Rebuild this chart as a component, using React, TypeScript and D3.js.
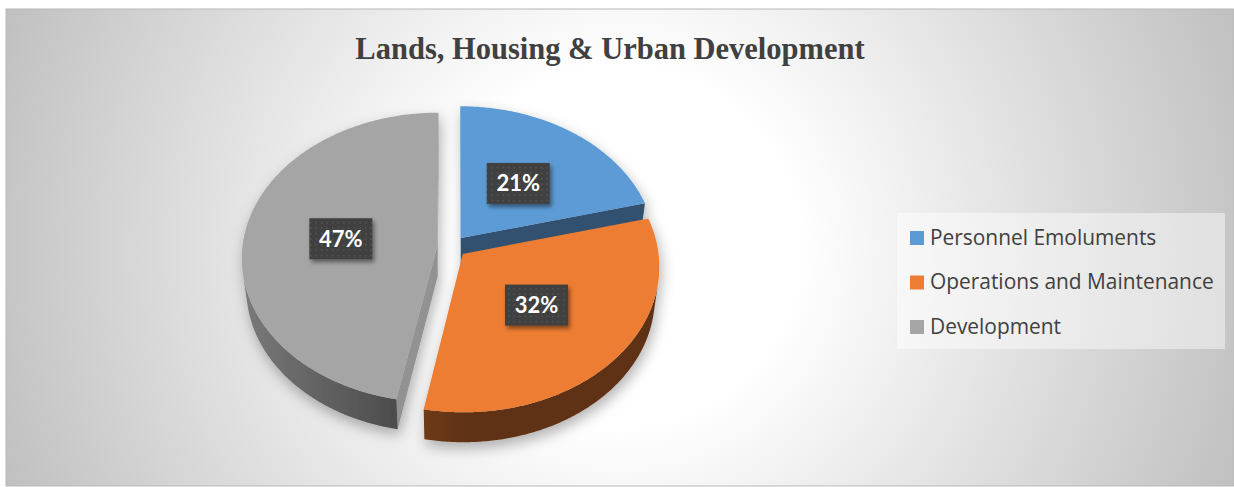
import React from 'react';
import * as d3 from 'd3';

const title = 'Lands, Housing & Urban Development';
const categories = ['Personnel Emoluments', 'Operations and Maintenance', 'Development'];
const values = [21, 32, 47];
const pctLabels = ['21%', '32%', '47%'];
const colors = ['#5B9BD5', '#ED7D31', '#A5A5A5'];

const W = 1234;
const H = 487;

// 3D projection parameters
const CX = 452;
const CY = 246.5;
const S = 195;
const D = 8.15;
const PHI = (47.6 * Math.PI) / 180;
const T = 0.24; // thickness (radius units)
const E = 0.075; // explosion
const LABEL_R = 0.5;
const cosP = Math.cos(PHI);
const sinP = Math.sin(PHI);

function project(X: number, h: number, Z: number): [number, number, number] {
  const d = D - (Z * cosP + h * sinP);
  const u = h * cosP - Z * sinP;
  return [CX + (S * D * X) / d, CY - (S * D * u) / d, d];
}

type Stop = { offset: number; color: string };
type Face = { d: string; fill: string; depth: number; grad?: { id: string; x1: number; x2: number; stops: Stop[] } };

export default function App() {
  const arcs = d3
    .pie<number>()
    .sort(null)
    .startAngle(0)
    .endAngle(2 * Math.PI)(values);
  const line = d3.line();
  const camZ = D * cosP;

  const sides: Face[] = [];
  const tops: Face[] = [];
  const labelPos: [number, number][] = [];

  arcs.forEach((a, i) => {
    const mid = (a.startAngle + a.endAngle) / 2;
    const ox = E * Math.sin(mid);
    const oz = -E * Math.cos(mid);
    const base = d3.rgb(colors[i]);
    const shade = (k: number) => d3.rgb(base.r * k, base.g * k, base.b * k).formatHex();
    const n = Math.max(8, Math.ceil((a.endAngle - a.startAngle) / 0.01));
    const thetas = d3.range(n + 1).map((j) => a.startAngle + ((a.endAngle - a.startAngle) * j) / n);
    const rim = (t: number, h: number) => project(ox + Math.sin(t), h, oz - Math.cos(t));
    const xy = (p: [number, number, number]): [number, number] => [p[0], p[1]];
    const visibleAt = (t: number) => {
      const px = ox + Math.sin(t);
      const pz = oz - Math.cos(t);
      return -px * Math.sin(t) + (camZ - pz) * -Math.cos(t) > 0;
    };

    const apex = project(ox, 0, oz);
    const topPts = [xy(apex), ...thetas.map((t) => xy(rim(t, 0)))];
    tops.push({ d: (line(topPts) || '') + 'Z', fill: colors[i], depth: apex[2] });

    // outer wall: contiguous visible runs as single polygons with gradient
    const runs: number[][] = [];
    let cur: number[] = [];
    thetas.forEach((t) => {
      if (visibleAt(t)) cur.push(t);
      else if (cur.length) {
        runs.push(cur);
        cur = [];
      }
    });
    if (cur.length) runs.push(cur);
    runs.forEach((run, r) => {
      if (run.length < 2) return;
      const topR = run.map((t) => xy(rim(t, 0)));
      const botR = run.map((t) => xy(rim(t, -T))).reverse();
      const xs = topR.map((p) => p[0]);
      const x1 = d3.min(xs) as number;
      const x2 = d3.max(xs) as number;
      const stops: Stop[] = run
        .map((t, j) => ({
          offset: (xs[j] - x1) / Math.max(1e-6, x2 - x1),
          color: shade(0.4 + 0.35 * Math.max(0, -Math.sin(t))),
        }))
        .sort((p, q) => p.offset - q.offset)
        .filter((_, j, arr) => j % 6 === 0 || j === arr.length - 1);
      const tm = run[Math.floor(run.length / 2)];
      sides.push({
        d: (line([...topR, ...botR]) || '') + 'Z',
        fill: `url(#wall${i}_${r})`,
        depth: project(ox + Math.sin(tm), -T / 2, oz - Math.cos(tm))[2],
        grad: { id: `wall${i}_${r}`, x1, x2, stops },
      });
    });

    const cuts: [number, number][] = [
      [a.startAngle, a.startAngle - Math.PI / 2],
      [a.endAngle, a.endAngle + Math.PI / 2],
    ];
    cuts.forEach(([t, nDir]) => {
      const nx = Math.sin(nDir);
      const nz = -Math.cos(nDir);
      const dot = -ox * nx + (camZ - oz) * nz;
      if (dot > 0) {
        const pts = [apex, rim(t, 0), rim(t, -T), project(ox, -T, oz)];
        const k = 0.5 + 0.4 * Math.sin(nDir) ** 2;
        const depth = d3.mean(pts, (p) => p[2]) as number;
        sides.push({ d: (line(pts.map(xy)) || '') + 'Z', fill: shade(k), depth });
      }
    });

    const lp = project(ox + LABEL_R * Math.sin(mid), 0, oz - LABEL_R * Math.cos(mid));
    labelPos.push([lp[0], lp[1]]);
  });

  sides.sort((p, q) => q.depth - p.depth);

  const legendX = 897;
  const legendY = 213;
  const rowStep = 44.5;

  return (
    <div style={{ position: 'absolute', left: 0, top: 0 }}>
      <svg width={W} height={H} style={{ display: 'block' }}>
        <defs>
          <radialGradient id="bg" gradientUnits="userSpaceOnUse" cx={620} cy={247} r={660}>
            <stop offset="0" stopColor="#ffffff" />
            <stop offset="0.27" stopColor="#ffffff" />
            <stop offset="1" stopColor="#c0c0c0" />
          </radialGradient>
          <filter id="pieShadow" x="-20%" y="-20%" width="140%" height="150%">
            <feDropShadow dx="2" dy="6" stdDeviation="7" floodColor="#000" floodOpacity="0.3" />
          </filter>
          <filter id="lblShadow" x="-20%" y="-20%" width="150%" height="160%">
            <feDropShadow dx="2" dy="3" stdDeviation="2" floodColor="#000" floodOpacity="0.45" />
          </filter>
          <pattern id="dots" width="5.5" height="5.5" patternUnits="userSpaceOnUse">
            <rect width="5.5" height="5.5" fill="#404040" />
            <rect x="2" y="2" width="1.4" height="1.4" fill="#5c5c5c" />
          </pattern>
          {sides
            .filter((f) => f.grad)
            .map((f) => (
              <linearGradient
                key={f.grad!.id}
                id={f.grad!.id}
                gradientUnits="userSpaceOnUse"
                x1={f.grad!.x1}
                x2={f.grad!.x2}
                y1={0}
                y2={0}
              >
                {f.grad!.stops.map((s, j) => (
                  <stop key={j} offset={s.offset} stopColor={s.color} />
                ))}
              </linearGradient>
            ))}
        </defs>

        <rect x={6} y={9} width={W - 6} height={477} fill="url(#bg)" stroke="#b8b8b8" strokeWidth={1} />

        <text
          x={610}
          y={59}
          textAnchor="middle"
          fontFamily="'Liberation Serif', 'Times New Roman', serif"
          fontWeight="bold"
          fontSize={30.5}
          fill="#404040"
        >
          {title}
        </text>

        <g filter="url(#pieShadow)">
          {sides.map((f, i) => (
            <path key={'s' + i} d={f.d} fill={f.fill} />
          ))}
          {tops.map((f, i) => (
            <path key={'t' + i} d={f.d} fill={f.fill} />
          ))}
        </g>

        {labelPos.map(([x, y], i) => (
          <g key={'l' + i}>
            <rect
              x={x - 31.5}
              y={y - 20.5}
              width={63}
              height={41}
              fill="url(#dots)"
              filter="url(#lblShadow)"
            />
            <text
              x={x}
              y={y + 8}
              textAnchor="middle"
              fontFamily="Lato, 'Open Sans', sans-serif"
              fontWeight="bold"
              fontSize={22}
              fill="#ffffff"
            >
              {pctLabels[i]}
            </text>
          </g>
        ))}

        <rect x={legendX} y={legendY} width={328} height={136} fill="#ffffff" fillOpacity={0.45} />
        {categories.map((c, i) => (
          <g key={'lg' + i}>
            <rect x={910} y={231 + i * rowStep} width={14} height={14} fill={colors[i]} />
            <text
              x={930}
              y={244.5 + i * rowStep}
              fontFamily="'Open Sans', Lato, sans-serif"
              fontSize={20.9}
              fill="#404040"
            >
              {c}
            </text>
          </g>
        ))}
      </svg>
    </div>
  );
}
